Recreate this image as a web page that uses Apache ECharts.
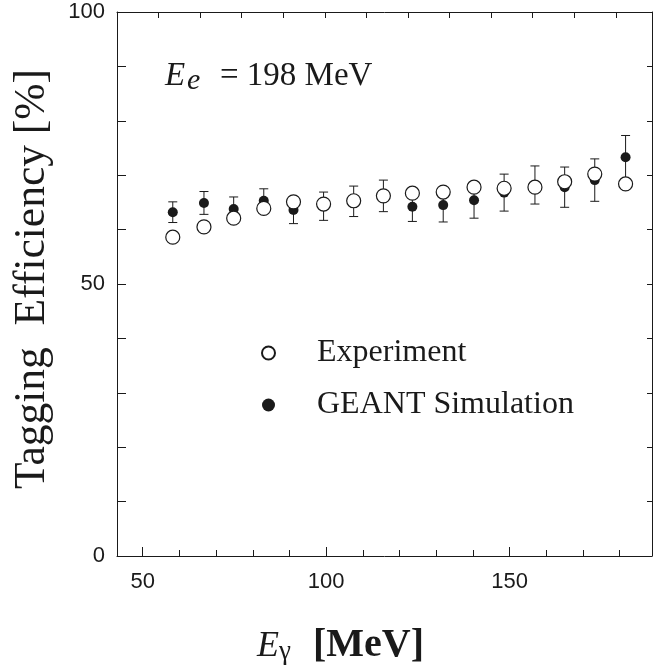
<!DOCTYPE html>
<html><head><meta charset="utf-8">
<script src="https://cdn.jsdelivr.net/npm/echarts@6/dist/echarts.min.js"></script>
<style>html,body{margin:0;padding:0;background:#fff}#c{width:653px;height:667px}</style>
</head><body><div id="c"></div>
<script>
// ---- data ----
const photonEnergy = [58.2, 66.7, 74.8, 83.0, 91.1, 99.3, 107.5, 115.6, 123.5, 131.9, 140.3, 148.5, 156.9, 165.0, 173.2, 181.6];
const experiment   = [58.6, 60.5, 62.1, 63.9, 65.1, 64.7, 65.3, 66.2, 66.7, 66.9, 67.8, 67.6, 67.8, 68.8, 70.2, 68.4];
const simulation   = [63.2, 64.9, 63.8, 65.3, 63.6, 64.3, 65.2, 66.2, 64.2, 64.5, 65.4, 66.8, 68.2, 67.8, 69.1, 73.3];
const simError     = [1.9, 2.1, 2.2, 2.2, 2.5, 2.6, 2.8, 2.9, 2.7, 3.1, 3.3, 3.4, 3.5, 3.7, 3.9, 4.0];
const xMajorTicks  = [50, 100, 150];
const xMinorTicks  = [50, 60, 70, 80, 90, 100, 110, 120, 130, 140, 150, 160, 170, 180];
const yTickLabels  = [0, 50, 100];

const black = '#1a1a1a';
const chart = echarts.init(document.getElementById('c'), null, {renderer: 'canvas'});
const expData = photonEnergy.map((x, i) => [x, experiment[i]]);
const simData = photonEnergy.map((x, i) => [x, simulation[i]]);
const errData = photonEnergy.map((x, i) => [x, simulation[i] - simError[i], simulation[i] + simError[i]]);
const lineStyle = {color: black, width: 1};
const tickFont = {color: black, fontSize: 22, fontFamily: 'Liberation Sans'};

const option = {
  animation: false,
  backgroundColor: '#fff',
  grid: {left: 117, top: 12, right: 1, bottom: 111},
  xAxis: [
    {type: 'value', min: 43, max: 188.8, position: 'bottom',
     axisLine: {show: true, lineStyle}, splitLine: {show: false},
     axisTick: {show: true, inside: true, length: 6, customValues: xMinorTicks, lineStyle},
     axisLabel: Object.assign({customValues: xMajorTicks, margin: 15}, tickFont)},
    {type: 'value', min: 43, max: 188.8, position: 'bottom',
     axisLine: {show: false}, splitLine: {show: false},
     axisTick: {show: true, inside: true, length: 9, customValues: xMajorTicks, lineStyle},
     axisLabel: {show: false}},
    {type: 'value', min: 0, max: 12.87, interval: 1, position: 'top',
     axisLine: {show: true, lineStyle}, splitLine: {show: false},
     axisTick: {show: true, inside: true, length: 6, lineStyle},
     axisLabel: {show: false}}
  ],
  yAxis: [
    {type: 'value', min: 0, max: 100, interval: 10, position: 'left',
     axisLine: {show: true, lineStyle}, splitLine: {show: false},
     axisTick: {show: true, inside: true, length: 9, lineStyle},
     axisLabel: Object.assign({customValues: yTickLabels, margin: 12}, tickFont)},
    {type: 'value', min: 0, max: 100, interval: 10, position: 'right',
     axisLine: {show: true, lineStyle}, splitLine: {show: false},
     axisTick: {show: true, inside: true, length: 5, lineStyle},
     axisLabel: {show: false}}
  ],
  legend: {
    data: ['Experiment', 'GEANT Simulation'],
    orient: 'vertical', left: 256, top: 328,
    itemWidth: 13, itemHeight: 13, itemGap: 12, selectedMode: false,
    textStyle: {fontFamily: 'Liberation Serif', fontSize: 32, color: black, lineHeight: 40, padding: [0, 0, 0, 37]}
  },
  series: [
    {type: 'custom', name: 'err', xAxisIndex: 0, yAxisIndex: 0, z: 2,
     data: errData, encode: {x: 0, y: [1, 2]},
     renderItem: function (params, api) {
       const x = api.value(0);
       const lo = api.coord([x, api.value(1)]);
       const hi = api.coord([x, api.value(2)]);
       const w = 4.5;
       const st = {stroke: black, lineWidth: 1};
       return {type: 'group', children: [
         {type: 'line', shape: {x1: lo[0], y1: lo[1], x2: hi[0], y2: hi[1]}, style: st},
         {type: 'line', shape: {x1: lo[0] - w, y1: lo[1], x2: lo[0] + w, y2: lo[1]}, style: st},
         {type: 'line', shape: {x1: hi[0] - w, y1: hi[1], x2: hi[0] + w, y2: hi[1]}, style: st}
       ]};
     }},
    {type: 'scatter', name: 'GEANT Simulation', xAxisIndex: 0, yAxisIndex: 0, z: 3,
     data: simData, symbol: 'circle', symbolSize: 10,
     itemStyle: {color: black, opacity: 1}},
    {type: 'scatter', name: 'Experiment', xAxisIndex: 0, yAxisIndex: 0, z: 4,
     data: expData, symbol: 'circle', symbolSize: 14,
     itemStyle: {color: '#fff', borderColor: black, borderWidth: 1.2, opacity: 1}}
  ],
  graphic: [
    {type: 'text', x: 33, y: 279, rotation: Math.PI / 2,
     style: {text: 'Tagging  Efficiency [%]', fontFamily: 'Liberation Serif', fontSize: 43.5, fill: black, align: 'center', verticalAlign: 'middle'}},
    {type: 'text', x: 257, y: 647,
     style: {text: 'E', fontFamily: 'Liberation Serif', fontStyle: 'italic', fontSize: 36, fill: black, align: 'left', verticalAlign: 'middle'}},
    {type: 'text', x: 279, y: 652,
     style: {text: 'γ', fontFamily: 'Liberation Serif', fontSize: 27, fill: black, align: 'left', verticalAlign: 'middle'}},
    {type: 'text', x: 313, y: 646,
     style: {text: '[MeV]', fontFamily: 'Liberation Serif', fontWeight: 'bold', fontSize: 40, fill: black, align: 'left', verticalAlign: 'middle'}},
    {type: 'text', x: 165, y: 76,
     style: {text: 'E', fontFamily: 'Liberation Serif', fontStyle: 'italic', fontSize: 33, fill: black, align: 'left', verticalAlign: 'middle'}},
    {type: 'text', x: 187, y: 81,
     style: {text: 'e', fontFamily: 'Liberation Serif', fontStyle: 'italic', fontSize: 30, fill: black, align: 'left', verticalAlign: 'middle'}},
    {type: 'text', x: 220, y: 76,
     style: {text: '= 198 MeV', fontFamily: 'Liberation Serif', fontSize: 33, fill: black, align: 'left', verticalAlign: 'middle'}}
  ]
};
chart.setOption(option);
</script></body></html>
